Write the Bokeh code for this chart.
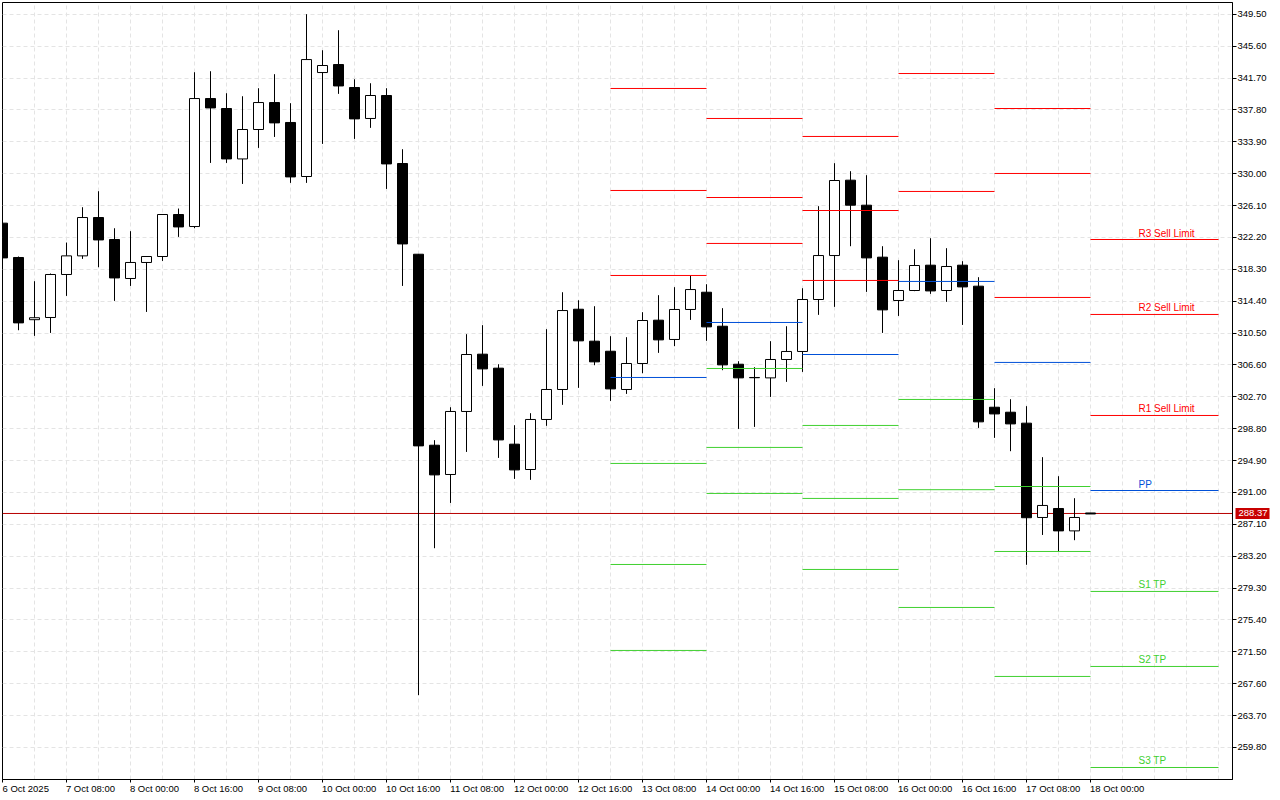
from bokeh.plotting import figure
from bokeh.core.properties import value
from bokeh.models import ColumnDataSource, FixedTicker, LinearAxis, NumeralTickFormatter
from bokeh.embed import file_html
from bokeh.resources import INLINE

# H4 candles, one row per bar, index order
opens = [323.95,319.75,312.14,312.41,317.67,319.95,324.64,321.95,317.18,319.14,319.87,325.01,323.54,339.20,337.98,331.81,335.41,338.71,336.27,329.66,342.38,343.36,340.55,336.76,339.57,331.25,320.15,296.78,293.20,300.91,307.92,306.21,296.91,293.81,299.93,303.60,313.42,309.51,308.28,303.60,306.78,312.08,309.72,313.39,315.50,311.34,306.69,305.07,305.02,307.27,308.25,314.61,319.99,329.21,326.15,319.79,314.49,315.71,318.81,315.71,318.81,316.24,301.43,300.82,299.48,287.94,289.04,286.30,288.49]
highs = [323.95,319.87,316.85,317.79,321.58,325.90,327.86,323.33,322.97,319.87,325.01,325.74,342.42,342.54,339.85,339.48,340.46,342.18,338.63,349.52,345.11,347.56,341.56,341.07,340.46,333.00,320.15,297.40,301.43,310.37,311.47,306.69,299.23,300.70,310.98,315.50,314.52,313.79,310.12,310.00,313.06,315.14,316.12,317.55,316.48,313.55,307.06,306.33,309.51,311.34,315.99,326.03,331.29,330.31,329.82,321.13,319.42,320.76,322.11,320.89,319.30,317.34,303.76,302.41,301.56,295.32,292.99,290.30,288.49]
lows = [319.66,310.85,310.16,310.52,315.05,319.58,318.56,314.44,316.27,313.09,319.33,322.27,323.33,331.32,331.32,328.75,333.16,334.50,328.88,328.88,333.65,339.77,334.26,335.61,328.14,316.27,266.20,284.18,289.72,295.96,304.04,295.23,292.66,292.54,299.15,301.72,303.80,306.57,302.20,303.06,305.59,308.08,308.90,312.11,309.55,305.96,298.78,299.02,302.69,304.53,305.75,312.73,313.71,321.13,315.54,310.52,312.60,315.63,315.30,314.32,311.50,298.90,297.68,296.05,282.15,285.80,283.78,285.16,288.37]
closes = [319.70,311.75,312.38,317.67,319.95,324.64,321.90,317.25,319.14,319.87,325.01,323.49,339.20,338.05,331.81,335.41,338.71,336.22,329.61,343.97,343.24,340.74,336.71,339.57,331.20,321.41,296.70,293.15,300.91,307.88,306.12,297.43,293.76,299.93,303.60,313.26,309.55,306.98,303.67,306.78,312.04,309.67,313.39,315.83,311.26,306.61,305.02,305.04,307.27,308.25,314.61,319.99,329.17,326.15,319.70,313.34,315.71,318.77,315.66,318.65,316.15,299.64,300.61,299.39,287.91,289.41,286.30,287.94,288.37]

# pivot-level blocks: start bar, end bar, and the levels drawn in each
block_starts = [38, 44, 50, 56, 62, 68]
block_ends = [44, 50, 56, 62, 68, 76]
resistance_levels = [
    [340.43, 327.95, 317.55],
    [336.76, 327.09, 321.47],
    [334.56, 325.50, 316.94],
    [342.26, 327.83],
    [337.98, 330.03, 314.86],
    [321.95, 312.78, 300.42],
]
pivot_levels = [305.07, 311.80, 307.88, 316.82, 306.91, 291.24]
support_levels = [
    [294.55, 282.19, 271.67],
    [306.17, 296.51, 290.88],
    [299.20, 290.27, 281.58],
    [302.38, 291.34, 276.93],
    [291.73, 283.78, 268.49],
    [278.89, 269.71, 257.35],
]

# labels of the last block
resistance_names = ["R3 Sell Limit", "R2 Sell Limit", "R1 Sell Limit"]
pivot_names = ["PP"]
support_names = ["S1 TP", "S2 TP", "S3 TP"]
label_bar = 71

last_price_text = "288.37"
last_price_line = 288.43  # where the reference draws its price line on the scale

y_ticks = [259.8, 263.7, 267.6, 271.5, 275.4, 279.3, 283.2, 287.1, 291.0, 294.9, 298.8, 302.7, 306.6, 310.5, 314.4, 318.3, 322.2, 326.1, 330.0, 333.9, 337.8, 341.7, 345.6, 349.5]
x_tick_labels = ["6 Oct 2025", "7 Oct 08:00", "8 Oct 00:00", "8 Oct 16:00", "9 Oct 08:00", "10 Oct 00:00", "10 Oct 16:00", "11 Oct 08:00", "12 Oct 00:00", "12 Oct 16:00", "13 Oct 08:00", "14 Oct 00:00", "14 Oct 16:00", "15 Oct 08:00", "16 Oct 00:00", "16 Oct 16:00", "17 Oct 08:00", "18 Oct 00:00"]

RED, BLUE, GREEN = "#ff0000", "#0050d8", "#40d030"
FONT = "Liberation Sans"
GRID = "#e4e4e4"

x_step = 16.0
p = figure(
    width=1280, height=800, output_backend="svg", toolbar_location=None,
    x_range=(0, 1230 / x_step),
    y_range=(255.88, 350.95),
    y_axis_location="right",
    min_border_left=2, min_border_top=2, min_border_right=48, min_border_bottom=21,
    background_fill_color="white", border_fill_color="white",
)
p.outline_line_color = "black"
p.outline_line_width = 1

n = len(opens)
xs = list(range(n))
x_ticks = [4 * k for k in range(len(x_tick_labels))]

# Axis labels are centred on their ticks and the reference starts them at the tick,
# so the labelled ticks sit half a text width to the right and the marks are minor ticks.
half_text_px = {10: 23.2, 11: 24.0, 12: 26.7}
label_pos = [t + half_text_px[len(s)] / x_step for t, s in zip(x_ticks, x_tick_labels)]
p.xaxis.ticker = FixedTicker(ticks=label_pos, minor_ticks=x_ticks)
p.xaxis.major_label_overrides = {pos: s for pos, s in zip(label_pos, x_tick_labels)}
p.xaxis.major_tick_line_color = None
p.xaxis.minor_tick_line_color = "black"
p.xaxis.minor_tick_in = 0
p.xaxis.minor_tick_out = 3
p.xaxis.major_tick_in = 0
p.xaxis.major_tick_out = 3
p.xaxis.major_label_standoff = 0
p.xaxis.major_label_text_font = FONT
p.xaxis.major_label_text_font_size = "9.5px"
p.xaxis.major_label_text_color = "black"
p.xaxis.axis_line_color = "black"

main_y = p.yaxis[0]
main_y.ticker = FixedTicker(ticks=y_ticks)
main_y.formatter = NumeralTickFormatter(format="0.00")
main_y.axis_line_color = "black"
main_y.major_tick_line_color = "black"
main_y.minor_tick_line_color = None
main_y.major_tick_in = 0
main_y.major_tick_out = 4
main_y.major_label_standoff = 1
main_y.major_label_text_font = FONT
main_y.major_label_text_font_size = "9.5px"
main_y.major_label_text_color = "black"

p.xgrid.ticker = FixedTicker(ticks=list(range(0, 77, 2)))
p.ygrid.ticker = FixedTicker(ticks=[t for t in y_ticks])
for g in (p.xgrid[0], p.ygrid[0]):
    g.grid_line_color = GRID
    g.grid_line_dash = [4, 3]
    g.grid_line_width = 1

# last price line under the candles
p.line(x=[p.x_range.start, p.x_range.end], y=[last_price_line, last_price_line], line_color="#b80000", line_width=1)

src = ColumnDataSource(dict(
    x=xs, high=highs, low=lows,
    top=[max(o, c) for o, c in zip(opens, closes)],
    bottom=[min(o, c) for o, c in zip(opens, closes)],
    fill=["white" if c > o else "black" for o, c in zip(opens, closes)],
))
p.segment("x", "high", "x", "low", source=src, line_color="black", line_width=1)
p.vbar("x", width=10 / x_step, top="top", bottom="bottom", source=src,
       fill_color="fill", line_color="black", line_width=1)

# levels on top of the candles
seg = dict(x0=[], x1=[], y=[], color=[])
for i, (a, b) in enumerate(zip(block_starts, block_ends)):
    groups = ((resistance_levels[i], RED), ([pivot_levels[i]], BLUE), (support_levels[i], GREEN))
    for vals, col in groups:
        for v in vals:
            seg["x0"].append(a); seg["x1"].append(b); seg["y"].append(v); seg["color"].append(col)
p.segment("x0", "y", "x1", "y", source=ColumnDataSource(seg), line_color="color", line_width=1)

txt = dict(x=[], y=[], t=[], color=[])
for names, vals, col in ((resistance_names, resistance_levels[-1], RED),
                         (pivot_names, [pivot_levels[-1]], BLUE),
                         (support_names, support_levels[-1], GREEN)):
    for s, v in zip(names, vals):
        txt["x"].append(label_bar); txt["y"].append(v); txt["t"].append(s); txt["color"].append(col)
p.text("x", "y", text="t", source=ColumnDataSource(txt), text_color="color",
       text_font=value(FONT), text_font_size="10px", text_align="left",
       text_baseline="bottom", y_offset=-1)

# price tag: a one-tick axis stacked beside the main axis; the thick tick, reaching back
# towards the frame, is the red box and the white tick label lies on top of it
tag = LinearAxis(
    ticker=FixedTicker(ticks=[last_price_line]),
    major_label_overrides={last_price_line: last_price_text},
    axis_line_color=None,
    minor_tick_line_color=None,
    major_tick_line_color="#c80000",
    major_tick_line_width=11,
    major_tick_line_cap="butt",
    major_tick_in=34,
    major_tick_out=0,
    major_label_standoff=-31,
    major_label_text_color="white",
    major_label_text_font=FONT,
    major_label_text_font_size="9.5px",
)
p.add_layout(tag, "right")

open("out.html", "w").write(file_html(p, INLINE))
